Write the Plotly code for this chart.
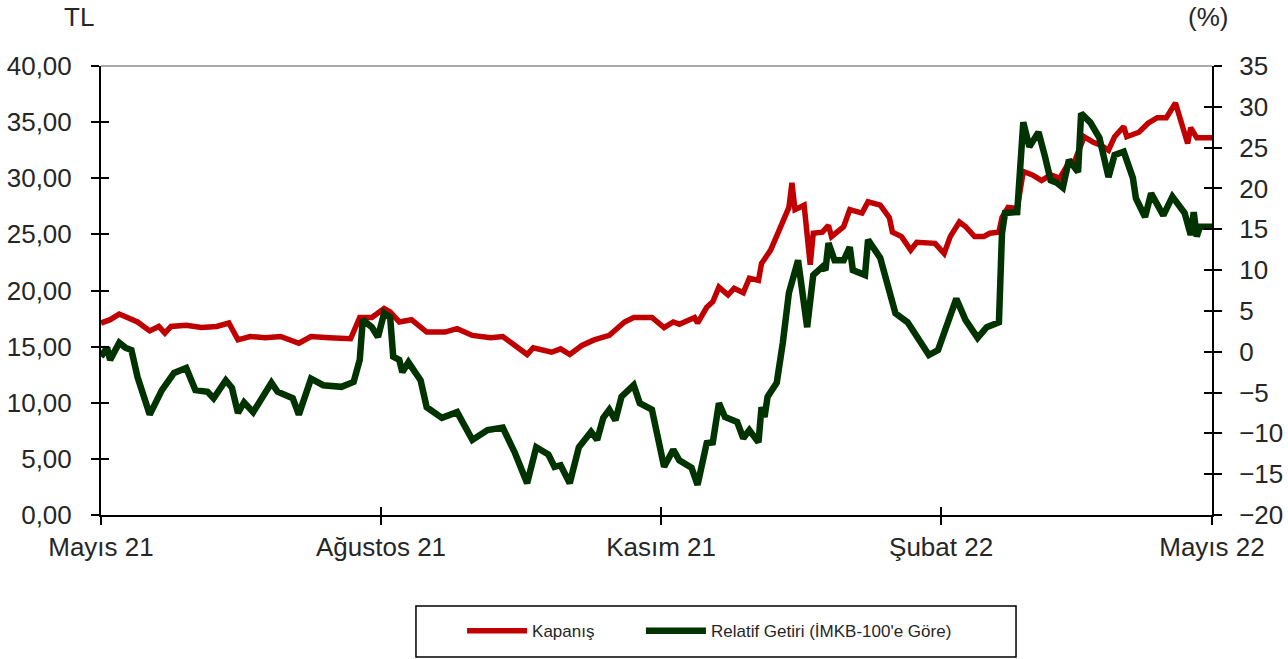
import pandas as pd
import plotly.graph_objects as go

# ---- data ----
start_date = "2021-05-01"

red_days = [0, 3, 6, 9, 12, 16, 19, 21, 23, 28, 33, 38, 42, 45, 49, 54, 59, 65, 69, 75,
            82, 85, 89, 93, 95, 98, 102, 107, 113, 117, 122, 128, 132, 136, 140, 142, 148, 151, 154, 158,
            162, 167, 172, 175, 181, 185, 188, 190, 193, 195, 196, 199, 201, 203, 206, 208, 211, 213, 216, 217,
            220, 223, 226, 227, 228, 231, 233, 234, 237, 239, 240, 244, 246, 250, 252, 256, 259, 260, 263, 266,
            268, 274, 277, 279, 282, 284, 287, 290, 292, 295, 296, 298, 301, 303, 306, 309, 312, 315, 318, 320,
            323, 326, 328, 331, 333, 336, 337, 341, 344, 347, 350, 353, 355, 357, 358, 360, 365]
kapanis = [17.1, 17.4, 17.9, 17.6, 17.2, 16.4, 16.8, 16.2, 16.8, 16.9, 16.7, 16.8, 17.1, 15.6, 15.9, 15.8, 15.9, 15.3, 15.9, 15.8,
           15.7, 17.6, 17.6, 18.4, 18.1, 17.2, 17.4, 16.3, 16.3, 16.6, 16.0, 15.8, 15.9, 15.1, 14.3, 14.9, 14.5, 14.8, 14.3, 15.1,
           15.6, 16.0, 17.2, 17.6, 17.6, 16.7, 17.2, 17.0, 17.4, 17.6, 17.1, 18.5, 19.0, 20.3, 19.6, 20.2, 19.8, 21.1, 20.9, 22.4,
           23.6, 25.4, 27.4, 29.6, 27.2, 27.6, 22.3, 25.1, 25.2, 25.8, 24.8, 25.7, 27.2, 26.9, 27.9, 27.6, 26.5, 25.2, 24.8, 23.6,
           24.3, 24.2, 23.3, 24.8, 26.1, 25.7, 24.8, 24.8, 25.1, 25.2, 26.5, 27.4, 27.3, 30.6, 30.3, 29.8, 30.3, 30.0, 31.4, 31.6,
           33.7, 33.2, 33.0, 32.5, 33.7, 34.6, 33.7, 34.1, 34.9, 35.4, 35.4, 36.7, 34.9, 33.1, 34.5, 33.6, 33.6]

green_days = [0, 2, 3, 6, 8, 10, 12, 16, 20, 24, 28, 31, 35, 37, 41, 43, 45, 47, 50, 56,
              58, 63, 65, 69, 73, 79, 83, 85, 86, 89, 91, 93, 95, 96, 98, 99, 101, 105, 107, 112,
              117, 122, 127, 132, 136, 139, 140, 143, 147, 149, 151, 154, 157, 161, 163, 165, 167, 169, 171, 175,
              177, 181, 185, 188, 190, 194, 196, 199, 201, 203, 205, 209, 211, 213, 216, 217, 218, 219, 222, 224,
              226, 229, 232, 234, 237, 238, 239, 241, 244, 246, 247, 251, 252, 256, 259, 261, 265, 268, 272, 275,
              279, 281, 284, 288, 291, 295, 296, 297, 301, 302, 303, 305, 308, 310, 312, 314, 316, 318, 321, 322,
              325, 328, 331, 333, 336, 339, 340, 343, 345, 349, 352, 356, 358, 359, 360, 361, 365]
relatif = [-0.6, 0.5, -1.0, 1.1, 0.5, 0.2, -3.1, -7.7, -4.7, -2.6, -2.0, -4.7, -4.9, -5.7, -3.5, -4.4, -7.5, -6.2, -7.4, -3.8,
           -4.9, -5.7, -7.7, -3.3, -4.1, -4.3, -3.7, -1.0, 3.9, 3.0, 1.8, 4.7, 4.2, -0.6, -1.0, -2.5, -1.3, -3.5, -6.8, -8.1,
           -7.4, -10.8, -9.6, -9.3, -12.4, -14.9, -16.1, -11.7, -12.6, -14.1, -13.9, -16.1, -11.7, -9.8, -10.8, -8.1, -7.1, -8.4, -5.5, -4.1,
           -6.3, -7.1, -14.1, -12.0, -13.3, -14.2, -16.3, -11.2, -11.1, -6.3, -8.0, -8.6, -10.6, -9.6, -11.1, -6.8, -8.0, -5.5, -3.8, 1.1,
           7.2, 11.2, 3.0, 9.4, 10.4, 10.0, 13.3, 11.2, 11.2, 12.8, 10.0, 9.4, 13.7, 11.5, 7.2, 4.7, 3.6, 1.8, -0.4, 0.2,
           4.3, 6.5, 3.9, 1.7, 3.0, 3.6, 14.5, 17.0, 17.1, 23.9, 28.1, 25.1, 26.9, 24.1, 21.0, 20.7, 20.1, 23.5, 22.0, 29.2,
           28.1, 26.2, 21.4, 24.1, 24.5, 21.3, 18.8, 16.5, 19.4, 16.7, 19.0, 17.0, 14.3, 17.1, 14.1, 15.3, 15.3]

x_tick_dates = ["2021-05-01", "2021-08-01", "2021-11-01", "2022-02-01", "2022-05-01"]
x_tick_text = ["Mayıs 21", "Ağustos 21", "Kasım 21", "Şubat 22", "Mayıs 22"]
left_ticks = [0, 5, 10, 15, 20, 25, 30, 35, 40]
left_tick_text = ["0,00", "5,00", "10,00", "15,00", "20,00", "25,00", "30,00", "35,00", "40,00"]
right_ticks = [-20, -15, -10, -5, 0, 5, 10, 15, 20, 25, 30, 35]

red_dates = pd.Timestamp(start_date) + pd.to_timedelta(red_days, unit="D")
green_dates = pd.Timestamp(start_date) + pd.to_timedelta(green_days, unit="D")

FONT = "Liberation Sans, Arial, sans-serif"
TXT = "#262626"
TICK_SIZE = 26
x_range = [x_tick_dates[0], x_tick_dates[-1]]

fig = go.Figure()
fig.add_trace(go.Scatter(x=red_dates, y=kapanis, name="Kapanış", mode="lines",
                         line=dict(color="#C00000", width=5.5), yaxis="y", legend="legend"))
fig.add_trace(go.Scatter(x=green_dates, y=relatif, name="Relatif Getiri (İMKB-100'e Göre)", mode="lines",
                         line=dict(color="#003300", width=6.5), yaxis="y2", legend="legend2"))
# helper traces so the inner half of the crossing ticks gets drawn
fig.add_trace(go.Scatter(x=[None], y=[None], xaxis="x2", yaxis="y3", showlegend=False, hoverinfo="skip"))
fig.add_trace(go.Scatter(x=[None], y=[None], xaxis="x2", yaxis="y4", showlegend=False, hoverinfo="skip"))

axis_common = dict(showgrid=False, zeroline=False, ticklen=8, tickwidth=1.5, tickcolor="black")
legend_common = dict(orientation="h", xanchor="left", y=-0.259, yanchor="middle",
                     font=dict(size=17, color=TXT, family=FONT), bgcolor="rgba(0,0,0,0)",
                     borderwidth=0, itemwidth=60)

fig.update_layout(
    width=1288, height=659, autosize=False,
    margin=dict(l=101, r=76, t=66, b=144, autoexpand=False),
    paper_bgcolor="white", plot_bgcolor="white",
    font=dict(family=FONT, color=TXT),
    xaxis=dict(type="date", range=x_range, tickvals=x_tick_dates, ticktext=x_tick_text,
               ticks="outside", showline=True, linecolor="black", linewidth=2,
               tickfont=dict(size=TICK_SIZE, color=TXT), ticklabelstandoff=0, **axis_common),
    xaxis2=dict(type="date", range=x_range, tickvals=x_tick_dates, overlaying="x", anchor="y",
                side="bottom", ticks="inside", showticklabels=False, showline=False, **axis_common),
    yaxis=dict(range=[0, 40], tickvals=left_ticks, ticktext=left_tick_text, ticks="outside",
               showline=True, linecolor="black", linewidth=2,
               tickfont=dict(size=TICK_SIZE, color=TXT), ticklabelstandoff=14, **axis_common),
    yaxis2=dict(range=[-20, 35], tickvals=right_ticks, overlaying="y", side="right", anchor="x",
                ticks="outside", showline=True, linecolor="black", linewidth=2,
                tickfont=dict(size=TICK_SIZE, color=TXT), ticklabelstandoff=12, **axis_common),
    yaxis3=dict(range=[0, 40], tickvals=left_ticks, overlaying="y", side="left", anchor="x",
                ticks="inside", showticklabels=False, showline=False, **axis_common),
    yaxis4=dict(range=[-20, 35], tickvals=right_ticks, overlaying="y", side="right", anchor="x",
                ticks="inside", showticklabels=False, showline=False, **axis_common),
    legend=dict(x=0.325, **legend_common),
    legend2=dict(x=0.486, **legend_common),
    showlegend=True,
)

# thin grey top border of the plot area
fig.add_shape(type="line", xref="paper", yref="paper", x0=0, x1=1, y0=1, y1=1,
              line=dict(color="#8c8c8c", width=1.5))
# legend frame
fig.add_shape(type="rect", xref="paper", yref="paper", x0=0.2835, x1=0.8236, y0=-0.316, y1=-0.2027,
              line=dict(color="black", width=1.5), fillcolor="rgba(0,0,0,0)")

fig.add_annotation(text="TL", xref="paper", yref="paper", x=-0.0198, y=1.109,
                   xanchor="center", yanchor="middle",
                   showarrow=False, font=dict(size=TICK_SIZE, color=TXT, family=FONT))
fig.add_annotation(text="(%)", xref="paper", yref="paper", x=0.9964, y=1.109,
                   xanchor="center", yanchor="middle",
                   showarrow=False, font=dict(size=TICK_SIZE, color=TXT, family=FONT))

fig.write_html("out.html", config={"displayModeBar": False},
               post_script="document.body.style.margin='0';document.body.style.overflow='hidden';")
